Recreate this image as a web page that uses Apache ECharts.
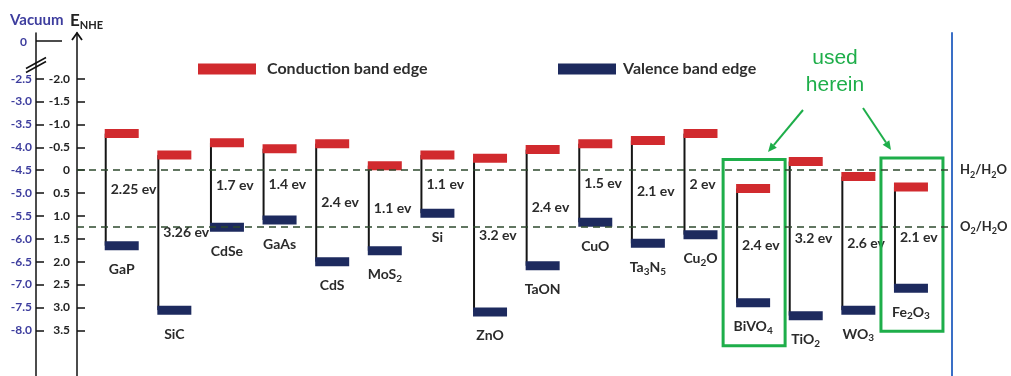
<!DOCTYPE html>
<html><head><meta charset="utf-8">
<script src="https://cdn.jsdelivr.net/npm/echarts@6/dist/echarts.min.js"></script>
<style>html,body{margin:0;padding:0;background:#fff}#c{width:1011px;height:376px}</style>
</head><body><div id="c"></div>
<script>
// ---------------- data ----------------
const materials = ['GaP','SiC','CdSe','GaAs','CdS','MoS2','Si','ZnO','TaON','CuO','Ta3N5','Cu2O','BiVO4','TiO2','WO3','Fe2O3'];
const conductionBand = [-0.80,-0.33,-0.60,-0.47,-0.58,-0.10,-0.33,-0.26,-0.45,-0.58,-0.65,-0.80,0.40,-0.19,0.14,0.37];
const valenceBand    = [1.65,3.06,1.25,1.09,2.00,1.76,0.94,3.10,2.09,1.14,1.60,1.41,2.90,3.18,3.06,2.58];
const bandGapLabels  = [2.25,3.26,1.7,1.4,2.4,1.1,1.1,3.2,2.4,1.5,2.1,2,2.4,3.2,2.6,2.1];
const nheTickLabels    = ['-2.0','-1.5','-1.0','-0.5','0','0.5','1.0','1.5','2.0','2.5','3.0','3.5'];
const vacuumTickLabels = ['-2.5','-3.0','-3.5','-4.0','-4.5','-5.0','-5.5','-6.0','-6.5','-7.0','-7.5','-8.0'];
const redoxLevels = [0, 1.23];
const redoxLabels = ['H2/H2O','O2/H2O'];
const usedHerein = ['BiVO4','Fe2O3'];

// ---------------- styles ----------------
const FONT = 'Lato';
const RED = '#d12a2e', NAVY = '#1d2a5e', GREEN = '#1eae4a', BLUE = '#3a6fc6';
const BAR_W = 34, BAR_H = 9;
const nheTickValues = nheTickLabels.map(Number);

function richify(s) {
  return s.split(/(\d)/).filter(t => t !== '').map(t => /\d/.test(t) ? '{s|' + t + '}' : '{n|' + t + '}').join('');
}
function richStyles(size, color) {
  return {
    n: { fontSize: size, fontWeight: 'bold', fontFamily: FONT, fill: color, color: color, lineHeight: 18 },
    s: { fontSize: Math.round(size * 0.68), fontWeight: 'bold', fontFamily: FONT, fill: color, color: color, lineHeight: 9, verticalAlign: 'bottom' }
  };
}

function bandBar(color) {
  return function (params, api) {
    const p = api.coord([api.value(0), api.value(1)]);
    return { type: 'rect', shape: { x: p[0] - BAR_W / 2, y: p[1] - BAR_H / 2, width: BAR_W, height: BAR_H }, style: { fill: color } };
  };
}

function gapItem(params, api) {
  const i = api.value(0);
  const top = api.coord([i, api.value(1)]);
  const bot = api.coord([i, api.value(2)]);
  const lx = top[0] - BAR_W / 2 + 1;
  return {
    type: 'group',
    children: [
      { type: 'line', shape: { x1: lx, y1: top[1], x2: lx, y2: bot[1] }, style: { stroke: '#151515', lineWidth: 2 } },
      { type: 'text', style: { text: api.value(3) + ' ev', x: lx + 5, y: (top[1] + bot[1]) / 2, align: 'left', verticalAlign: 'middle',
          font: 'bold 14px ' + FONT, fill: '#2b2b2b' } },
      { type: 'text', style: { text: richify(materials[params.dataIndex]), rich: richStyles(14, '#2b2b2b'),
          x: top[0], y: bot[1] + 24, align: 'center', verticalAlign: 'middle' } }
    ]
  };
}

function boxItem(params, api) {
  const c = api.coord([api.value(0), api.value(1)]);
  const b = api.coord([api.value(0), api.value(2)]);
  return { type: 'rect', shape: { x: c[0] - 30, y: c[1] - 29, width: 62, height: b[1] + 43 - (c[1] - 29) },
    style: { fill: 'none', stroke: GREEN, lineWidth: 3 } };
}

function arrow(x1, y1, x2, y2) {
  const a = Math.atan2(y2 - y1, x2 - x1), L = 9, W = 4;
  const bx = x2 - L * Math.cos(a), by = y2 - L * Math.sin(a);
  const px = -Math.sin(a) * W, py = Math.cos(a) * W;
  return [
    { type: 'line', shape: { x1: x1, y1: y1, x2: bx, y2: by }, style: { stroke: GREEN, lineWidth: 2 } },
    { type: 'polygon', shape: { points: [[x2, y2], [bx + px, by + py], [bx - px, by - py]] }, style: { fill: GREEN } }
  ];
}

const chart = echarts.init(document.getElementById('c'));
const yBase = { type: 'value', min: -3, max: 4.5, inverse: true, splitLine: { show: false } };

chart.setOption({
  animation: false,
  backgroundColor: '#fff',
  grid: { left: 77, right: 59, top: 33, bottom: -5, containLabel: false },
  legend: [
    { data: ['Conduction band edge'], left: 193, top: 56, icon: 'rect', itemWidth: 58, itemHeight: 11,
      textStyle: { fontFamily: FONT, fontWeight: 'bold', fontSize: 16, color: '#2e2e2e', padding: [0, 0, 0, 6] } },
    { data: ['Valence band edge'], left: 553, top: 56, icon: 'rect', itemWidth: 58, itemHeight: 11,
      textStyle: { fontFamily: FONT, fontWeight: 'bold', fontSize: 16, color: '#2e2e2e', padding: [0, 0, 0, 2] } }
  ],
  xAxis: { type: 'value', min: -0.85, max: 15.78, show: false },
  yAxis: [
    Object.assign({}, yBase, {
      position: 'left',
      axisLine: { show: true, onZero: false, lineStyle: { color: '#111', width: 1.5 } },
      axisTick: { show: true, inside: true, length: 8, lineStyle: { color: '#111', width: 1.5 }, customValues: nheTickValues },
      axisLabel: { show: true, customValues: nheTickValues, margin: 7, fontFamily: FONT, fontWeight: 'bold', fontSize: 12, color: '#222',
        formatter: v => nheTickLabels[nheTickValues.indexOf(Math.round(v * 10) / 10)] || '' }
    }),
    Object.assign({}, yBase, {
      position: 'left', offset: 41,
      axisLine: { show: true, onZero: false, lineStyle: { color: '#111', width: 1.5 } },
      axisTick: { show: true, inside: true, length: 8, lineStyle: { color: '#111', width: 1.5 }, customValues: nheTickValues },
      axisLabel: { show: true, customValues: nheTickValues, margin: 4, fontFamily: FONT, fontWeight: 'bold', fontSize: 12, color: '#3d3d9e',
        formatter: v => vacuumTickLabels[nheTickValues.indexOf(Math.round(v * 10) / 10)] || '' }
    }),
    Object.assign({}, yBase, {
      position: 'right',
      axisLine: { show: true, onZero: false, lineStyle: { color: BLUE, width: 2 } },
      axisTick: { show: false }, axisLabel: { show: false }
    })
  ],
  series: [
    {
      name: 'gap', type: 'custom', renderItem: gapItem, z: 2,
      data: materials.map((m, i) => [i, conductionBand[i], valenceBand[i], bandGapLabels[i]]),
      markLine: {
        silent: true, symbol: 'none',
        lineStyle: { type: [7, 5], color: '#2e4a2e', width: 1.5 },
        data: redoxLevels.map((v, i) => ({
          yAxis: v,
          label: { show: true, position: 'end', distance: 8, formatter: richify(redoxLabels[i]), rich: richStyles(13, '#2b2b2b') }
        }))
      }
    },
    {
      name: 'Conduction band edge', type: 'custom', renderItem: bandBar(RED), z: 3, itemStyle: { color: RED },
      data: conductionBand.map((v, i) => [i, v])
    },
    {
      name: 'Valence band edge', type: 'custom', renderItem: bandBar(NAVY), z: 3, itemStyle: { color: NAVY },
      data: valenceBand.map((v, i) => [i, v])
    },
    {
      name: 'used herein', type: 'custom', renderItem: boxItem, z: 4,
      data: usedHerein.map(n => { const i = materials.indexOf(n); return [i, conductionBand[i], valenceBand[i]]; })
    }
  ],
  graphic: [
    { type: 'text', left: 10, top: 13, style: { text: 'Vacuum', font: 'bold 15px ' + FONT, fill: '#3d3d9e' } },
    { type: 'text', left: 70, top: 12, style: { text: '{e|E}{s|NHE}', rich: {
        e: { fontSize: 17, fontWeight: 'bold', fontFamily: FONT, fill: '#222', lineHeight: 20 },
        s: { fontSize: 11, fontWeight: 'bold', fontFamily: FONT, fill: '#222', lineHeight: 11, verticalAlign: 'bottom' } } } },
    { type: 'polyline', shape: { points: [[72, 40], [77, 33], [82, 40]] }, style: { stroke: '#111', lineWidth: 1.8, fill: 'none' } },
    { type: 'text', left: 20, top: 36, style: { text: '0', font: 'bold 12px ' + FONT, fill: '#3d3d9e' } },
    { type: 'line', shape: { x1: 36, y1: 41, x2: 62, y2: 41 }, style: { stroke: '#111', lineWidth: 1.5 } },
    { type: 'polygon', shape: { points: [[27, 68], [45, 58], [45, 62], [27, 72]] }, style: { fill: '#fff' } },
    { type: 'line', shape: { x1: 26, y1: 68.5, x2: 46, y2: 57.5 }, style: { stroke: '#111', lineWidth: 1.5 } },
    { type: 'line', shape: { x1: 26, y1: 72.5, x2: 46, y2: 61.5 }, style: { stroke: '#111', lineWidth: 1.5 } },
    { type: 'text', x: 835, y: 58, style: { text: 'used', font: '21px "Liberation Sans"', fill: GREEN, align: 'center', verticalAlign: 'middle' } },
    { type: 'text', x: 835, y: 85, style: { text: 'herein', font: '21px "Liberation Sans"', fill: GREEN, align: 'center', verticalAlign: 'middle' } }
  ].concat(arrow(803, 110, 768, 152), arrow(863, 108, 891, 150))
});
</script></body></html>
